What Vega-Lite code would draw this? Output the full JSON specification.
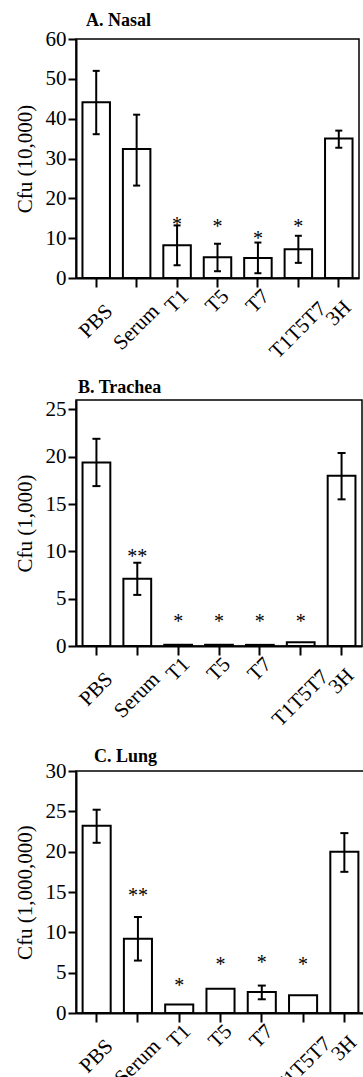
{
  "$schema": "https://vega.github.io/schema/vega-lite/v6.json",
  "padding": {"left": 13, "top": 10, "right": 0, "bottom": 0},
  "background": "white",
  "datasets": {
    "nasal": [
      {"group": "PBS", "cfu": 44.1, "lo": 36.1, "hi": 52.0, "sig": "", "sig_at": null},
      {"group": "Serum", "cfu": 32.4, "lo": 23.2, "hi": 41.0, "sig": "", "sig_at": null},
      {"group": "T1", "cfu": 8.2, "lo": 3.2, "hi": 13.2, "sig": "*", "sig_at": 14.3},
      {"group": "T5", "cfu": 5.2, "lo": 1.7, "hi": 8.6, "sig": "*", "sig_at": 13.8},
      {"group": "T7", "cfu": 5.0, "lo": 1.2, "hi": 8.9, "sig": "*", "sig_at": 10.9},
      {"group": "T1T5T7", "cfu": 7.2, "lo": 3.8, "hi": 10.6, "sig": "*", "sig_at": 13.8},
      {"group": "3H", "cfu": 35.0, "lo": 32.7, "hi": 37.0, "sig": "", "sig_at": null}
    ],
    "trachea": [
      {"group": "PBS", "cfu": 19.4, "lo": 16.9, "hi": 21.9, "sig": "", "sig_at": null},
      {"group": "Serum", "cfu": 7.1, "lo": 5.4, "hi": 8.8, "sig": "**", "sig_at": 9.8},
      {"group": "T1", "cfu": 0.13, "lo": null, "hi": null, "sig": "*", "sig_at": 3.0},
      {"group": "T5", "cfu": 0.13, "lo": null, "hi": null, "sig": "*", "sig_at": 3.0},
      {"group": "T7", "cfu": 0.12, "lo": null, "hi": null, "sig": "*", "sig_at": 3.0},
      {"group": "T1T5T7", "cfu": 0.4, "lo": null, "hi": null, "sig": "*", "sig_at": 3.0},
      {"group": "3H", "cfu": 18.0, "lo": 15.5, "hi": 20.4, "sig": "", "sig_at": null}
    ],
    "lung": [
      {"group": "PBS", "cfu": 23.2, "lo": 21.1, "hi": 25.2, "sig": "", "sig_at": null},
      {"group": "Serum", "cfu": 9.2, "lo": 6.5, "hi": 11.9, "sig": "**", "sig_at": 15.0},
      {"group": "T1", "cfu": 1.05, "lo": null, "hi": null, "sig": "*", "sig_at": 3.9},
      {"group": "T5", "cfu": 3.0, "lo": null, "hi": null, "sig": "*", "sig_at": 6.4},
      {"group": "T7", "cfu": 2.6, "lo": 1.7, "hi": 3.4, "sig": "*", "sig_at": 6.7},
      {"group": "T1T5T7", "cfu": 2.2, "lo": null, "hi": null, "sig": "*", "sig_at": 6.4},
      {"group": "3H", "cfu": 20.0, "lo": 17.5, "hi": 22.3, "sig": "", "sig_at": null}
    ]
  },
  "vconcat": [
    {
      "width": 283, "height": 239,
      "title": {"text": "A. Nasal", "dx": 10, "offset": -1.5},
      "data": {"name": "nasal"},
      "encoding": {"x": {"field": "group", "type": "nominal", "sort": null, "scale": {"paddingInner": 0.32, "paddingOuter": 0.16}}},
      "layer": [
        {"mark": {"type": "bar", "fill": "white", "stroke": "black", "strokeWidth": 2},
         "encoding": {"y": {"field": "cfu", "type": "quantitative", "scale": {"domain": [0, 60]}, "axis": {"values": [0, 10, 20, 30, 40, 50, 60], "labelOverlap": false, "title": "Cfu (10,000)"}}}},
        {"transform": [{"filter": "isValid(datum.hi)"}], "mark": {"type": "rule", "strokeWidth": 2, "color": "black"},
         "encoding": {"y": {"field": "lo", "type": "quantitative", "axis": {"values": [0, 10, 20, 30, 40, 50, 60], "labelOverlap": false, "title": "Cfu (10,000)"}}, "y2": {"field": "hi"}}},
        {"transform": [{"filter": "isValid(datum.hi)"}], "mark": {"type": "tick", "size": 7, "thickness": 2, "color": "black", "opacity": 1},
         "encoding": {"y": {"field": "hi", "type": "quantitative", "axis": {"values": [0, 10, 20, 30, 40, 50, 60], "labelOverlap": false, "title": "Cfu (10,000)"}}}},
        {"transform": [{"filter": "isValid(datum.lo)"}], "mark": {"type": "tick", "size": 7, "thickness": 2, "color": "black", "opacity": 1},
         "encoding": {"y": {"field": "lo", "type": "quantitative", "axis": {"values": [0, 10, 20, 30, 40, 50, 60], "labelOverlap": false, "title": "Cfu (10,000)"}}}},
        {"transform": [{"filter": "datum.sig != ''"}], "mark": {"type": "text", "fontSize": 20, "baseline": "alphabetic", "dy": 10, "color": "black"},
         "encoding": {"y": {"field": "sig_at", "type": "quantitative", "axis": {"values": [0, 10, 20, 30, 40, 50, 60], "labelOverlap": false, "title": "Cfu (10,000)"}}, "text": {"field": "sig"}}}
      ]
    },
    {
      "width": 286, "height": 246,
      "title": {"text": "B. Trachea", "dx": 2, "offset": 1},
      "data": {"name": "trachea"},
      "encoding": {"x": {"field": "group", "type": "nominal", "sort": null, "scale": {"paddingInner": 0.32, "paddingOuter": 0.16}}},
      "layer": [
        {"mark": {"type": "bar", "fill": "white", "stroke": "black", "strokeWidth": 2},
         "encoding": {"y": {"field": "cfu", "type": "quantitative", "scale": {"domain": [0, 25]}, "axis": {"values": [0, 5, 10, 15, 20, 25], "labelOverlap": false, "title": "Cfu (1,000)"}}}},
        {"transform": [{"filter": "isValid(datum.hi)"}], "mark": {"type": "rule", "strokeWidth": 2, "color": "black"},
         "encoding": {"y": {"field": "lo", "type": "quantitative", "axis": {"values": [0, 5, 10, 15, 20, 25], "labelOverlap": false, "title": "Cfu (1,000)"}}, "y2": {"field": "hi"}}},
        {"transform": [{"filter": "isValid(datum.hi)"}], "mark": {"type": "tick", "size": 8, "thickness": 2, "color": "black", "opacity": 1},
         "encoding": {"y": {"field": "hi", "type": "quantitative", "axis": {"values": [0, 5, 10, 15, 20, 25], "labelOverlap": false, "title": "Cfu (1,000)"}}}},
        {"transform": [{"filter": "isValid(datum.lo)"}], "mark": {"type": "tick", "size": 8, "thickness": 2, "color": "black", "opacity": 1},
         "encoding": {"y": {"field": "lo", "type": "quantitative", "axis": {"values": [0, 5, 10, 15, 20, 25], "labelOverlap": false, "title": "Cfu (1,000)"}}}},
        {"transform": [{"filter": "datum.sig != ''"}], "mark": {"type": "text", "fontSize": 20, "baseline": "alphabetic", "dy": 10, "color": "black"},
         "encoding": {"y": {"field": "sig_at", "type": "quantitative", "axis": {"values": [0, 5, 10, 15, 20, 25], "labelOverlap": false, "title": "Cfu (1,000)"}}, "text": {"field": "sig"}}}
      ]
    },
    {
      "width": 289, "height": 242,
      "title": {"text": "C. Lung", "dx": 18, "offset": -5.6},
      "data": {"name": "lung"},
      "encoding": {"x": {"field": "group", "type": "nominal", "sort": null, "scale": {"paddingInner": 0.32, "paddingOuter": 0.16}}},
      "layer": [
        {"mark": {"type": "bar", "fill": "white", "stroke": "black", "strokeWidth": 2},
         "encoding": {"y": {"field": "cfu", "type": "quantitative", "scale": {"domain": [0, 30]}, "axis": {"values": [0, 5, 10, 15, 20, 25, 30], "labelOverlap": false, "title": "Cfu (1,000,000)"}}}},
        {"transform": [{"filter": "isValid(datum.hi)"}], "mark": {"type": "rule", "strokeWidth": 2, "color": "black"},
         "encoding": {"y": {"field": "lo", "type": "quantitative", "axis": {"values": [0, 5, 10, 15, 20, 25, 30], "labelOverlap": false, "title": "Cfu (1,000,000)"}}, "y2": {"field": "hi"}}},
        {"transform": [{"filter": "isValid(datum.hi)"}], "mark": {"type": "tick", "size": 8, "thickness": 2, "color": "black", "opacity": 1},
         "encoding": {"y": {"field": "hi", "type": "quantitative", "axis": {"values": [0, 5, 10, 15, 20, 25, 30], "labelOverlap": false, "title": "Cfu (1,000,000)"}}}},
        {"transform": [{"filter": "isValid(datum.lo)"}], "mark": {"type": "tick", "size": 8, "thickness": 2, "color": "black", "opacity": 1},
         "encoding": {"y": {"field": "lo", "type": "quantitative", "axis": {"values": [0, 5, 10, 15, 20, 25, 30], "labelOverlap": false, "title": "Cfu (1,000,000)"}}}},
        {"transform": [{"filter": "datum.sig != ''"}], "mark": {"type": "text", "fontSize": 20, "baseline": "alphabetic", "dy": 10, "color": "black"},
         "encoding": {"y": {"field": "sig_at", "type": "quantitative", "axis": {"values": [0, 5, 10, 15, 20, 25, 30], "labelOverlap": false, "title": "Cfu (1,000,000)"}}, "text": {"field": "sig"}}}
      ]
    }
  ],
  "config": {
    "font": "Liberation Serif",
    "view": {"stroke": "black", "strokeWidth": 1.5},
    "axis": {"domainColor": "black", "domainWidth": 2, "tickColor": "black", "tickWidth": 2, "tickSize": 8, "labelColor": "black", "titleColor": "black", "grid": false, "labelFont": "Liberation Serif", "titleFont": "Liberation Serif", "titleFontWeight": "normal", "labelOverlap": false, "labelFlush": false},
    "axisX": {"labelAngle": -45, "labelFontSize": 21, "labelAlign": "center", "labelBaseline": "middle", "tickSize": 9, "labelOffset": 0,
              "labelPadding": {"condition": [{"test": "datum.label == 'PBS'", "value": 34}, {"test": "datum.label == 'Serum'", "value": 40}, {"test": "datum.label == 'T1T5T7'", "value": 43}, {"test": "datum.label == '3H'", "value": 26}], "value": 14},
              "title": null},
    "axisY": {"labelFontSize": 21, "titleFontSize": 21, "labelPadding": 2, "titlePadding": 10},
    "title": {"font": "Liberation Serif", "fontSize": 18, "fontWeight": "bold", "anchor": "start", "frame": "group", "color": "black"},
    "concat": {"spacing": 15}
  }
}
